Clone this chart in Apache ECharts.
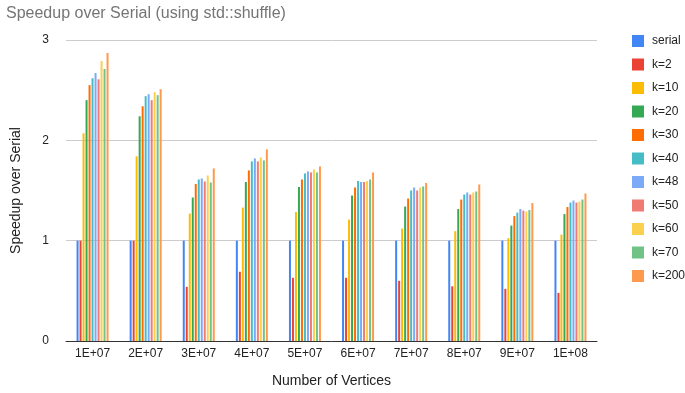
<!DOCTYPE html>
<html><head><meta charset="utf-8">
<script src="https://cdn.jsdelivr.net/npm/echarts@6/dist/echarts.min.js"></script>
<style>html,body{margin:0;padding:0;background:#fff}#c{width:685px;height:393px}</style>
</head><body><div id="c"></div>
<script>
const categories = ['1E+07','2E+07','3E+07','4E+07','5E+07','6E+07','7E+07','8E+07','9E+07','1E+08'];
const seriesNames = ['serial','k=2','k=10','k=20','k=30','k=40','k=48','k=50','k=60','k=70','k=200'];
const colors = ['#4285F4','#EA4335','#FBBC04','#34A853','#FF6D01','#46BDC6','#7BAAF7','#F07B72','#FCD04F','#71C287','#FF994D'];
const serial = [1,1,1,1,1,1,1,1,1,1];
const k2   = [1.00,1.00,0.54,0.69,0.63,0.63,0.60,0.545,0.52,0.48];
const k10  = [2.07,1.84,1.27,1.33,1.285,1.21,1.12,1.095,1.025,1.06];
const k20  = [2.40,2.24,1.43,1.585,1.535,1.45,1.34,1.315,1.15,1.265];
const k30  = [2.55,2.34,1.565,1.70,1.61,1.53,1.42,1.41,1.245,1.335];
const k40  = [2.62,2.44,1.61,1.79,1.67,1.595,1.50,1.46,1.28,1.38];
const k48  = [2.67,2.46,1.62,1.82,1.69,1.585,1.53,1.48,1.315,1.40];
const k50  = [2.61,2.40,1.59,1.79,1.68,1.585,1.50,1.46,1.30,1.38];
const k60  = [2.79,2.48,1.65,1.83,1.71,1.595,1.53,1.48,1.29,1.39];
const k70  = [2.71,2.45,1.58,1.80,1.68,1.61,1.54,1.49,1.305,1.41];
const k200 = [2.87,2.51,1.72,1.91,1.74,1.68,1.575,1.56,1.375,1.47];
const allData = [serial,k2,k10,k20,k30,k40,k48,k50,k60,k70,k200];

const chart = echarts.init(document.getElementById('c'));
chart.setOption({
  animation: false,
  color: colors,
  title: {
    text: 'Speedup over Serial (using std::shuffle)',
    left: 1, top: 1,
    textStyle: {fontFamily: 'Liberation Sans, Arial, sans-serif', fontSize: 16, fontWeight: 'normal', color: '#757575'}
  },
  legend: {
    orient: 'vertical', left: 627, top: 30,
    itemWidth: 12, itemHeight: 12, itemGap: 11.5, icon: 'rect',
    textStyle: {fontFamily: 'Liberation Sans, Arial, sans-serif', fontSize: 12, color: '#222', padding: [0, 0, 0, 3]},
    data: seriesNames
  },
  grid: {left: 66, right: 88, top: 40, bottom: 47},
  xAxis: {
    type: 'category', data: categories,
    name: 'Number of Vertices', nameLocation: 'middle', nameGap: 33,
    nameTextStyle: {fontFamily: 'Liberation Sans, Arial, sans-serif', fontSize: 14, color: '#222'},
    axisLine: {lineStyle: {color: '#333'}},
    axisTick: {show: false},
    axisLabel: {fontFamily: 'Liberation Sans, Arial, sans-serif', fontSize: 12, color: '#222', margin: 7}
  },
  yAxis: {
    type: 'value', min: 0, max: 3, interval: 1,
    name: 'Speedup over Serial', nameLocation: 'middle', nameGap: 43,
    nameTextStyle: {fontFamily: 'Liberation Sans, Arial, sans-serif', fontSize: 14, color: '#222'},
    axisLine: {show: false}, axisTick: {show: false},
    axisLabel: {fontFamily: 'Liberation Sans, Arial, sans-serif', fontSize: 12, color: '#222', margin: 17},
    splitLine: {lineStyle: {color: '#ccc'}}
  },
  series: seriesNames.map((n, i) => ({
    name: n, type: 'bar', data: allData[i],
    barWidth: 2, barGap: '50%'
  }))
});
</script></body></html>
